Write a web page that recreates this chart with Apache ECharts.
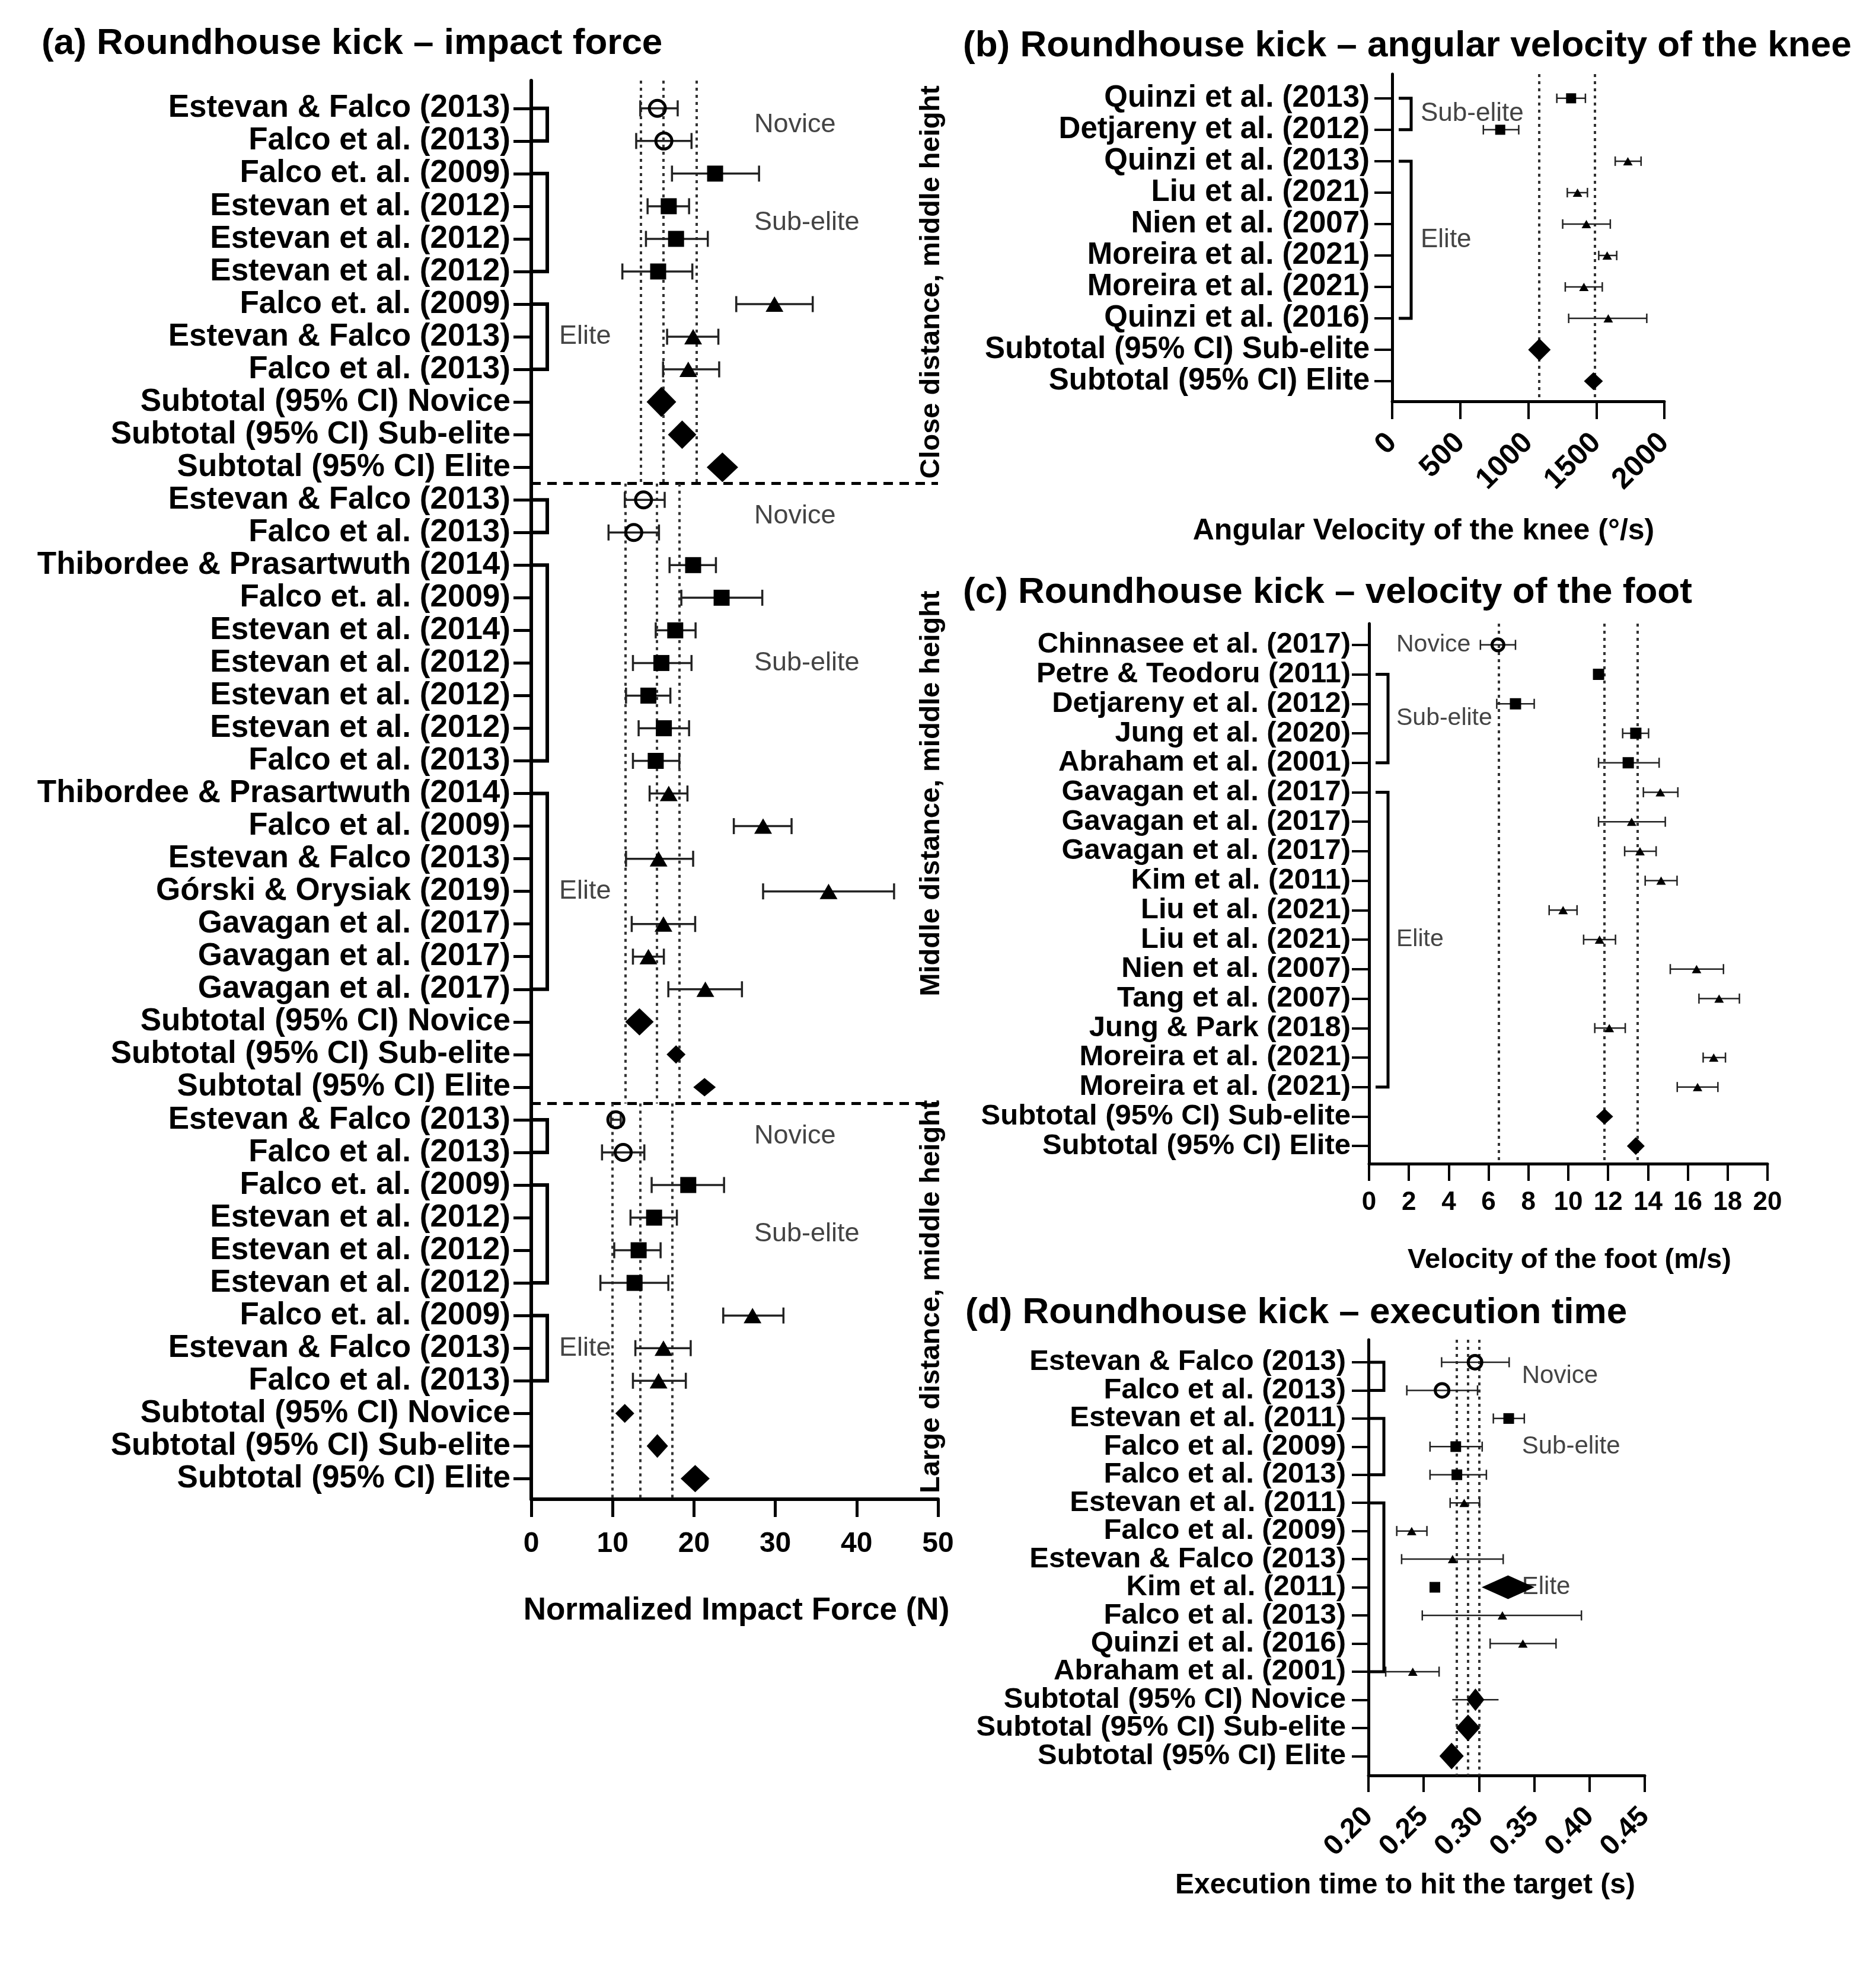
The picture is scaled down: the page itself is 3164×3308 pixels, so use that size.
<!DOCTYPE html>
<html><head><meta charset="utf-8">
<script src="https://cdn.jsdelivr.net/npm/echarts@6/dist/echarts.min.js"></script>
<style>html,body{margin:0;padding:0;background:#fff}#c{width:3164px;height:3308px}</style>
</head><body><div id="c"></div>
<script>
// ================= DATA =================
// ---- Panel (a): impact force (N) ----
const aLabels = [
 'Estevan & Falco (2013)','Falco et al. (2013)','Falco et. al. (2009)','Estevan et al. (2012)','Estevan et al. (2012)','Estevan et al. (2012)','Falco et. al. (2009)','Estevan & Falco (2013)','Falco et al. (2013)','Subtotal (95% CI) Novice','Subtotal (95% CI) Sub-elite','Subtotal (95% CI) Elite',
 'Estevan & Falco (2013)','Falco et al. (2013)','Thibordee & Prasartwuth (2014)','Falco et. al. (2009)','Estevan et al. (2014)','Estevan et al. (2012)','Estevan et al. (2012)','Estevan et al. (2012)','Falco et al. (2013)','Thibordee & Prasartwuth (2014)','Falco et al. (2009)','Estevan & Falco (2013)','Górski & Orysiak (2019)','Gavagan et al. (2017)','Gavagan et al. (2017)','Gavagan et al. (2017)','Subtotal (95% CI) Novice','Subtotal (95% CI) Sub-elite','Subtotal (95% CI) Elite',
 'Estevan & Falco (2013)','Falco et al. (2013)','Falco et. al. (2009)','Estevan et al. (2012)','Estevan et al. (2012)','Estevan et al. (2012)','Falco et. al. (2009)','Estevan & Falco (2013)','Falco et al. (2013)','Subtotal (95% CI) Novice','Subtotal (95% CI) Sub-elite','Subtotal (95% CI) Elite'];
const aKind = ['o','o','s','s','s','s','t','t','t','d','d','d',
 'o','o','s','s','s','s','s','s','s','t','t','t','t','t','t','t','d','d','d',
 'o','o','s','s','s','s','t','t','t','d','d','d'];
const aMean = [15.5,16.3,22.6,16.9,17.8,15.6,29.9,19.9,19.3,16.0,18.55,23.5,
 13.8,12.6,19.9,23.4,17.7,16.0,14.4,16.3,15.3,16.9,28.5,15.65,36.55,16.25,14.4,21.4,13.3,17.8,21.3,
 10.4,11.3,19.3,15.1,13.2,12.7,27.2,16.25,15.65,11.5,15.5,20.15];
const aLow = [13.4,12.9,17.3,14.3,14.1,11.2,25.2,16.7,16.2,null,null,null,
 11.5,9.5,17.0,18.45,15.3,12.5,11.65,13.2,12.5,14.55,24.9,11.65,28.5,12.35,12.5,16.85,null,null,null,
 9.8,8.7,14.8,12.2,10.2,8.5,23.6,12.8,12.5,null,null,null];
const aHigh = [18.0,19.7,28.0,19.4,21.7,19.8,34.6,23.0,23.1,null,null,null,
 16.4,15.7,22.7,28.4,20.2,19.7,17.1,19.4,18.2,19.2,32.0,19.9,44.6,20.15,16.3,25.9,null,null,null,
 11.0,13.9,23.7,17.9,15.9,16.85,31.0,19.6,19.0,null,null,null];
const aGroups = [['Novice',0,1],['Sub-elite',2,5],['Elite',6,8],
 ['Novice',12,13],['Sub-elite',14,20],['Elite',21,27],
 ['Novice',31,32],['Sub-elite',33,36],['Elite',37,39]];
const aSectionNames = ['Close distance, middle height','Middle distance, middle height','Large distance, middle height'];
const aSectionRows = [[0,11],[12,30],[31,42]];
const aRefLines = [[13.5,16.25,20.35],[11.6,15.4,18.2],[10.0,13.4,17.3]];
const aXTicks = [0,10,20,30,40,50];

// ---- Panel (b): angular velocity of the knee (deg/s) ----
const bLabels = ['Quinzi et al. (2013)','Detjareny et al. (2012)','Quinzi et al. (2013)','Liu et al. (2021)','Nien et al. (2007)','Moreira et al. (2021)','Moreira et al. (2021)','Quinzi et al. (2016)','Subtotal (95% CI) Sub-elite','Subtotal (95% CI) Elite'];
const bKind = ['s','s','t','t','t','t','t','t','d','d'];
const bMean = [1315,794,1732,1362,1427,1580,1409,1588,1082,1479];
const bLow  = [1210,670,1639,1287,1253,1518,1272,1297,null,null];
const bHigh = [1420,930,1829,1435,1603,1650,1544,1871,null,null];
const bGroups = [['Sub-elite',0,1],['Elite',2,7]];
const bRefLines = [1080,1487];
const bXTicks = [0,500,1000,1500,2000];

// ---- Panel (c): velocity of the foot (m/s) ----
const cLabels = ['Chinnasee et al. (2017)','Petre & Teodoru (2011)','Detjareny et al. (2012)','Jung et al. (2020)','Abraham et al. (2001)','Gavagan et al. (2017)','Gavagan et al. (2017)','Gavagan et al. (2017)','Kim et al. (2011)','Liu et al. (2021)','Liu et al. (2021)','Nien et al. (2007)','Tang et al. (2007)','Jung & Park (2018)','Moreira et al. (2021)','Moreira et al. (2021)','Subtotal (95% CI) Sub-elite','Subtotal (95% CI) Elite'];
const cKind = ['o','s','s','s','s','t','t','t','t','t','t','t','t','t','t','t','d','d'];
const cMean = [6.47,11.52,7.35,13.39,13.01,14.62,13.18,13.6,14.66,9.74,11.57,16.44,17.57,12.06,17.3,16.49,11.82,13.39];
const cLow  = [5.59,null,6.41,12.73,11.52,13.77,11.52,12.83,13.86,9.04,10.77,15.12,16.56,11.33,16.77,15.47,null,null];
const cHigh = [7.35,null,8.29,14.03,14.56,15.5,14.87,14.41,15.46,10.44,12.37,17.79,18.59,12.86,17.89,17.51,null,null];
const cGroups = [['Novice',0,0,false],['Sub-elite',1,4],['Elite',5,15]];
const cRefLines = [6.51,11.82,13.46];
const cXTicks = [0,2,4,6,8,10,12,14,16,18,20];

// ---- Panel (d): execution time (s) ----
const dLabels = ['Estevan & Falco (2013)','Falco et al. (2013)','Estevan et al. (2011)','Falco et al. (2009)','Falco et al. (2013)','Estevan et al. (2011)','Falco et al. (2009)','Estevan & Falco (2013)','Kim et al. (2011)','Falco et al. (2013)','Quinzi et al. (2016)','Abraham et al. (2001)','Subtotal (95% CI) Novice','Subtotal (95% CI) Sub-elite','Subtotal (95% CI) Elite'];
const dKind = ['o','o','s','s','s','t','t','t','s','t','t','t','d','d','d'];
const dMean = [0.2964,0.2666,0.3269,0.279,0.28,0.2866,0.2391,0.2761,0.2601,0.3212,0.3397,0.2401,0.2968,0.2901,0.2752];
const dLow  = [0.2662,0.2347,0.313,0.2557,0.2557,0.2739,0.2256,0.23,null,0.2487,0.3101,0.2156,0.2758,null,null];
const dHigh = [0.3273,0.2987,0.341,0.3029,0.3067,0.3006,0.2529,0.3219,null,0.3927,0.3697,0.2639,0.3177,null,null];
const dGroups = [['Novice',0,1],['Sub-elite',2,4],['Elite',5,11]];
const dStrayDiamond = [[0.3263, 8]];
const dRefLines = [0.2752,0.2901,0.2983];
const dXTicks = [0.20,0.25,0.30,0.35,0.40,0.45];

// ================= STYLE / LAYOUT =================
const FONT = "'Liberation Sans', Arial, Helvetica, sans-serif";
const GRAY = '#444';
const aDiamondSize = {9:[50,51],10:[48,48],11:[53,50],28:[48,46],29:[32,31],30:[38,31],40:[32,32],41:[36,40],42:[49,46]};
const bDiamondSize = {8:[38,38],9:[32,30]};
const cDiamondSize = {16:[29,27],17:[30,30]};
const dDiamondSize = {12:[30,38],13:[41,45],14:[41,45]};

const P = [
  {grid:{left:896,right:1582,top:136,bottom:779}, yMin:-0.85, yMax:42.63, labels:aLabels, yFont:53, yMargin:35, tick:30, lw:6,
   xTicks:aXTicks, xFont:48, xMargin:52, xRot:0, fmt:v=>String(v), mk:{o:27,ob:5,s:27,t:[30,26]}, cap:27, elw:3.5,
   diamonds:aDiamondSize, kinds:aKind, means:aMean, lows:aLow, highs:aHigh, groups:aGroups, brLw:6, attached:true, br0:0, br1:27,
   gFont:45, labelPos:n => n==='Elite' ? {px:47} : {val:27.4}, selfLabels:false},
  {grid:{left:2348,right:357,top:125,bottom:2631}, yMin:-0.77, yMax:9.64, labels:bLabels, yFont:51, yMargin:38, tick:30, lw:5,
   xTicks:bXTicks, xFont:50, xMargin:62, xRot:45, fmt:v=>String(v), mk:{o:16,ob:3,s:17,t:[16,14]}, cap:16, elw:2.5,
   diamonds:bDiamondSize, kinds:bKind, means:bMean, lows:bLow, highs:bHigh, groups:bGroups, brLw:5, attached:false, br0:11, br1:32,
   gFont:44, labelPos:n => ({px:48}), selfLabels:false},
  {grid:{left:2309,right:183,top:1052,bottom:1345}, yMin:-0.72, yMax:17.6, labels:cLabels, yFont:49, yMargin:31, tick:29, lw:5,
   xTicks:cXTicks, xFont:44, xMargin:44, xRot:0, fmt:v=>String(v), mk:{o:20,ob:5,s:19,t:[16,14]}, cap:17, elw:2.5,
   diamonds:cDiamondSize, kinds:cKind, means:cMean, lows:cLow, highs:cHigh, groups:cGroups, brLw:5, attached:false, br0:11, br1:32,
   gFont:41, labelPos:n => ({px:46}), selfLabels:false},
  {grid:{left:2308,right:390,top:2260,bottom:313}, yMin:-0.8, yMax:14.69, labels:dLabels, yFont:49, yMargin:38, tick:28, lw:5,
   xTicks:dXTicks, xFont:48, xMargin:62, xRot:45, fmt:v=>v.toFixed(2), mk:{o:23,ob:5,s:18,t:[16,14]}, cap:17, elw:2.5,
   diamonds:dDiamondSize, kinds:dKind, means:dMean, lows:dLow, highs:dHigh, groups:dGroups, brLw:5, attached:true, br0:0, br1:26,
   gFont:42, labelPos:n => ({val:0.3388}), selfLabels:true}
];

const grids=[], xAxes=[], yAxes=[], series=[];
P.forEach((p, i) => {
  grids.push(Object.assign({containLabel:false}, p.grid));
  const idx = p.labels.map((_, k) => k);
  yAxes.push({gridIndex:i, type:'value', inverse:true, min:p.yMin, max:p.yMax,
    axisLine:{show:true, onZero:false, lineStyle:{color:'#000', width:p.lw}},
    axisTick:{show:true, customValues:idx, length:p.tick, lineStyle:{color:'#000', width:p.lw-1}},
    axisLabel:{show:!p.selfLabels, customValues:idx, margin:p.yMargin, showMinLabel:true, showMaxLabel:true, hideOverlap:false,
      formatter:v => p.labels[Math.round(v)] || '',
      color:'#000', fontFamily:FONT, fontWeight:'bold', fontSize:p.yFont},
    splitLine:{show:false}});
  const t = p.xTicks;
  xAxes.push({gridIndex:i, type:'value', min:t[0], max:t[t.length-1], interval:t[1]-t[0],
    axisLine:{show:true, onZero:false, lineStyle:{color:'#000', width:p.lw}},
    axisTick:{show:true, customValues:t, length:p.tick, lineStyle:{color:'#000', width:p.lw-1}},
    axisLabel:{show:true, customValues:t, rotate:p.xRot, margin:p.xMargin, formatter:p.fmt, showMinLabel:true, showMaxLabel:true, hideOverlap:false,
      color:'#000', fontFamily:FONT, fontWeight:'bold', fontSize:p.xFont},
    splitLine:{show:false}});

  // row labels drawn through the axis scale when the axis would drop crowded ones
  if (p.selfLabels) {
    series.push({type:'custom', xAxisIndex:i, yAxisIndex:i, data:idx.map(k => [t[0], k]), encode:{x:0, y:1}, z:5, silent:true, clip:false,
      renderItem:(prm, api) => {
        const c = api.coord([api.value(0), api.value(1)]);
        return {type:'text', x:c[0] - p.yMargin, y:c[1], style:{text:p.labels[prm.dataIndex], fill:'#000', fontFamily:FONT,
          fontWeight:'bold', fontSize:p.yFont, align:'right', verticalAlign:'middle', textAlign:'right', textVerticalAlign:'middle'}};
      }});
  }

  // error bars
  const ed = [];
  p.lows.forEach((lo, k) => { if (lo != null) ed.push([lo, p.highs[k], k, p.kinds[k] === 'd' ? 1 : 0]); });
  series.push({type:'custom', xAxisIndex:i, yAxisIndex:i, data:ed, encode:{x:[0,1], y:2}, z:2, silent:true, clip:false,
    renderItem:(prm, api) => {
      const a = api.coord([api.value(0), api.value(2)]), b = api.coord([api.value(1), api.value(2)]);
      const st = {stroke:'#222', lineWidth:p.elw};
      const h = p.cap / 2;
      const ch = [{type:'line', shape:{x1:a[0], y1:a[1], x2:b[0], y2:b[1]}, style:st}];
      if (!api.value(3)) {
        ch.push({type:'line', shape:{x1:a[0], y1:a[1]-h, x2:a[0], y2:a[1]+h}, style:st});
        ch.push({type:'line', shape:{x1:b[0], y1:b[1]-h, x2:b[0], y2:b[1]+h}, style:st});
      }
      return {type:'group', children:ch};
    }});

  // markers
  const md = p.means.map((m, k) => {
    const kd = p.kinds[k];
    if (kd === 'o') return {value:[m,k], symbol:'circle', symbolSize:p.mk.o, itemStyle:{color:'rgba(255,255,255,0)', borderColor:'#000', borderWidth:p.mk.ob, opacity:1}};
    if (kd === 's') return {value:[m,k], symbol:'rect', symbolSize:p.mk.s, itemStyle:{color:'#000', opacity:1}};
    if (kd === 't') return {value:[m,k], symbol:'triangle', symbolSize:p.mk.t, itemStyle:{color:'#000', opacity:1}};
    return {value:[m,k], symbol:'diamond', symbolSize:p.diamonds[k] || 30, itemStyle:{color:'#000', opacity:1}};
  });
  const dotted = {type:[5,7], width:4, color:'#333', opacity:1};
  let ml = [];
  if (i === 0) {
    aSectionRows.forEach((r, s) => {
      const top = s === 0 ? p.yMin : r[0] - 0.5;
      const bot = s === aSectionRows.length - 1 ? p.yMax : r[1] + 0.5;
      aRefLines[s].forEach(x => ml.push([{coord:[x, top], lineStyle:dotted}, {coord:[x, bot]}]));
      if (s < aSectionRows.length - 1) ml.push({yAxis:r[1] + 0.5, lineStyle:{type:[16,11], width:5, color:'#000', opacity:1}});
    });
  } else {
    const refs = [null, bRefLines, cRefLines, dRefLines][i];
    refs.forEach(x => ml.push({xAxis:x, lineStyle:dotted}));
  }
  series.push({type:'scatter', xAxisIndex:i, yAxisIndex:i, data:md, z:4, silent:true, itemStyle:{opacity:1},
    markLine:{silent:true, symbol:['none','none'], label:{show:false}, animation:false, data:ml, z:1}});

  // brackets + group labels
  const gd = p.groups.map(g => [g[1], g[2]]);
  series.push({type:'custom', xAxisIndex:i, yAxisIndex:i, data:gd, encode:{y:[0,1]}, z:3, silent:true, clip:false,
    renderItem:(prm, api) => {
      const g = p.groups[prm.dataIndex];
      const xmin = p.xTicks[0];
      const A = api.coord([xmin, g[1]]), B = api.coord([xmin, g[2]]);
      const ch = [];
      if (g[3] !== false) {
        const x0 = A[0] + p.br0, x1 = A[0] + p.br1;
        ch.push({type:'polyline', shape:{points:[[x0, A[1]], [x1, A[1]], [x1, B[1]], [x0, B[1]]]},
          style:{stroke:'#000', lineWidth:p.brLw, fill:null, lineJoin:'miter'}});
      }
      const lp = p.labelPos(g[0]);
      const ym = (A[1] + B[1]) / 2;
      const lx = lp.px != null ? A[0] + lp.px : api.coord([lp.val, g[1]])[0];
      ch.push({type:'text', x:lx, y:ym, style:{text:g[0], fill:GRAY, fontFamily:FONT, fontSize:p.gFont,
        align:'left', verticalAlign:'middle', textAlign:'left', textVerticalAlign:'middle'}});
      return {type:'group', children:ch};
    }});
});

// panel (a) section side labels
series.push({type:'custom', xAxisIndex:0, yAxisIndex:0, z:5, silent:true, clip:false,
  data:aSectionRows.map((r, s) => [0, s]), encode:{x:0, y:1},
  renderItem:(prm, api) => {
    const s = prm.dataIndex, r = aSectionRows[s];
    const top = s === 0 ? P[0].yMin : r[0] - 0.5;
    const bot = s === aSectionRows.length - 1 ? P[0].yMax : r[1] + 0.5;
    const A = api.coord([50, top]), B = api.coord([50, bot]);
    return {type:'text', x:A[0] - 11, y:(A[1] + B[1]) / 2 - (s === 2 ? 8 : 0), rotation:Math.PI / 2,
      style:{text:aSectionNames[s], fill:'#000', fontFamily:FONT, fontWeight:'bold', fontSize:47,
        align:'center', verticalAlign:'middle', textAlign:'center', textVerticalAlign:'middle'}};
  }});

// panel (d) stray diamond drawn over the "Elite" label
series.push({type:'scatter', xAxisIndex:3, yAxisIndex:3, z:6, silent:true, symbol:'diamond', symbolSize:[89,40],
  itemStyle:{color:'#000', opacity:1}, data:dStrayDiamond});

function txt(text, x, y, size, align, extra) {
  return Object.assign({type:'text', x, y, silent:true, z:10,
    style:{text, fill:'#000', fontFamily:FONT, fontWeight:'bold', fontSize:size,
      align:align, verticalAlign:'middle', textAlign:align, textVerticalAlign:'middle'}}, extra || {});
}
const graphic = [
  txt('(a) Roundhouse kick – impact force', 70, 74, 62, 'left'),
  txt('(b) Roundhouse kick – angular velocity of the knee', 1624, 78, 62, 'left'),
  txt('(c) Roundhouse kick – velocity of the foot', 1624, 1000, 62, 'left'),
  txt('(d) Roundhouse kick – execution time', 1628, 2215, 62, 'left'),
  txt('Normalized Impact Force (N)', 1242, 2717, 53, 'center'),
  txt('Angular Velocity of the knee (°/s)', 2401, 896, 50, 'center'),
  txt('Velocity of the foot (m/s)', 2647, 2126, 47, 'center'),
  txt('Execution time to hit the target (s)', 2370, 3181, 48, 'center')
];

const chart = echarts.init(document.getElementById('c'), null, {renderer:'canvas'});
chart.setOption({animation:false, backgroundColor:'#fff', grid:grids, xAxis:xAxes, yAxis:yAxes, series, graphic});
</script></body></html>
